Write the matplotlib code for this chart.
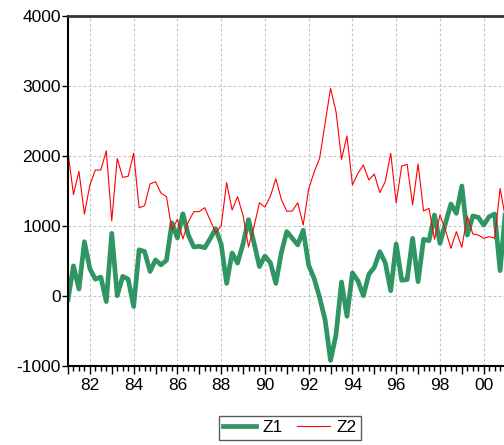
import numpy as np
import matplotlib
matplotlib.use("Agg")
from matplotlib import pyplot as plt
from matplotlib.ticker import MultipleLocator, FuncFormatter

plt.rcParams["font.family"] = ["Liberation Sans", "DejaVu Sans"]
plt.rcParams["axes.unicode_minus"] = False

# quarterly series, 1981Q1 .. 2001Q1
start_year = 1981.0
z1 = [-50, 430, 100, 775, 390, 240, 270, -80, 895, 5,
      280, 240, -150, 660, 635, 350, 515, 445, 510, 1045,
      830, 1175, 870, 700, 710, 690, 820, 960, 740, 180,
      615, 470, 745, 1090, 760, 420, 570, 475, 180, 620,
      920, 825, 730, 940, 440, 250, -20, -340, -920, -550,
      200, -290, 330, 215, 5, 310, 410, 633, 476, 76,
      743, 225, 235, 824, 205, 810, 790, 1157, 752, 1038,
      1314, 1181, 1571, 871, 1143, 1124, 1014, 1133, 1171, 362,
      1250]
z2 = [2050, 1450, 1780, 1170, 1585, 1800, 1800, 2075, 1075, 1965,
      1695, 1710, 2040, 1260, 1290, 1600, 1633, 1470, 1420, 940,
      1095, 815, 1060, 1205, 1205, 1262, 1080, 905, 1000, 1620,
      1229, 1419, 1150, 700, 990, 1333, 1270, 1425, 1675, 1380,
      1210, 1214, 1333, 1014, 1530, 1770, 1967, 2467, 2967, 2633,
      1952, 2286, 1586, 1752, 1871, 1657, 1743, 1476, 1633, 2038,
      1330, 1857, 1880, 1300, 1886, 1214, 1252, 810, 1157, 943,
      681, 919, 695, 1143, 886, 871, 824, 848, 824, 1538,
      1100]
t = start_year + 0.25 * np.arange(len(z1))

fig = plt.figure(figsize=(5.04, 4.45), dpi=100)
ax = fig.add_axes([68 / 504, 1 - 366 / 445, 1 - 68 / 504, 350 / 445])

ax.plot(t, z1, color="#2e9563", lw=3.4, label="Z1", solid_joinstyle="round")
ax.plot(t, z2, color="#ff0000", lw=0.8, label="Z2")

ax.set_ylim(-1000, 4000)
ax.set_xlim(1981.0, 1981.0 + 436 / 21.88)
ax.set_yticks([-1000, 0, 1000, 2000, 3000, 4000])

ax.xaxis.set_major_locator(MultipleLocator(1))
ax.xaxis.set_minor_locator(MultipleLocator(0.25))
ax.xaxis.set_major_formatter(FuncFormatter(
    lambda v, p: "%02d" % (int(round(v)) % 100) if int(round(v)) % 2 == 0 else ""))
ax.tick_params(axis="x", which="major", length=6, width=1, direction="out", pad=3)
ax.tick_params(axis="x", which="minor", length=3.5, width=1, direction="out")
ax.tick_params(axis="y", length=4, width=1, direction="out", pad=1)
ax.tick_params(labelsize=12.5)

for yr in range(1982, 2001, 2):
    ax.axvline(yr, color="#c4c4c4", lw=0.8, ls=(0, (2.5, 2)), zorder=0)
for v in [0, 1000, 2000, 3000]:
    ax.axhline(v, color="#c4c4c4", lw=0.8, ls=(0, (2.5, 2)), zorder=0)

ax.spines["right"].set_visible(False)
ax.spines["top"].set_linewidth(2)
ax.spines["top"].set_color("#333333")
ax.spines["left"].set_linewidth(1.5)
ax.spines["bottom"].set_linewidth(1.5)

fig.legend(loc="upper center", bbox_to_anchor=(290 / 504, 1 - 416 / 445),
           ncol=2, frameon=True, fancybox=False, edgecolor="#333333",
           fontsize=12.5, handlelength=1.9, columnspacing=0.8,
           borderpad=0.25, handletextpad=0.4, borderaxespad=0)

fig.savefig("out.png", dpi=100)
